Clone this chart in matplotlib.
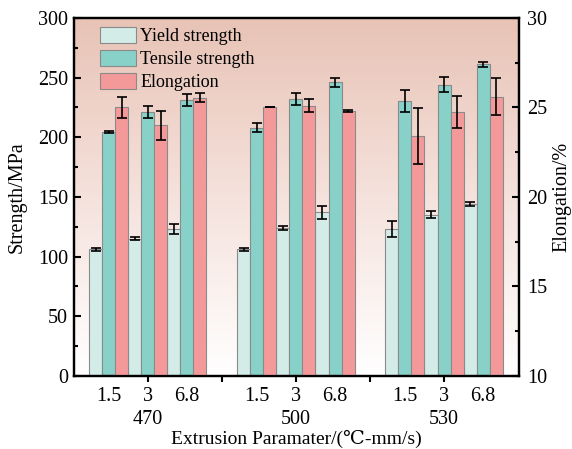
import numpy as np
import matplotlib
matplotlib.use('Agg')
from matplotlib import pyplot as plt
from matplotlib.colors import LinearSegmentedColormap

plt.rcParams['font.family'] = ['Liberation Serif', 'DejaVu Serif']

temps = ['470', '500', '530']
speeds = ['1.5', '3', '6.8']

# values per (temp, speed): 470-1.5, 470-3, 470-6.8, 500-..., 530-...
yield_s = [106, 115, 123, 106, 124, 137, 123, 135, 144]
yield_err = [1, 1.5, 4.5, 1, 2, 5.6, 6.6, 3, 1.7]
tensile = [204.5, 221, 231, 208, 232, 246, 230.5, 244, 261]
tensile_err = [1, 4.9, 4.9, 3.8, 5, 3.5, 9.2, 6.3, 2.2]
elong = [25.0, 24.0, 25.55, 25.0, 25.1, 24.8, 23.4, 24.75, 25.6]
elong_err = [0.6, 0.8, 0.26, 0.0, 0.37, 0.05, 1.56, 0.9, 1.04]

c_yield = '#d4ece8'
c_tens = '#88d1c9'
c_elong = '#f4999a'
edge = '#8a8a8a'
fs = 14.5

fig = plt.figure(figsize=(5.72, 4.49), dpi=100)
ax = fig.add_axes([0.129, 0.163, 0.778, 0.797])
ax2 = ax.twinx()

w = 0.088
sub = 3 * w
centers = []
for g in range(3):
    for s in range(3):
        centers.append(g + (s - 1) * sub)
centers = np.array(centers)

# gradient background
cmap = LinearSegmentedColormap.from_list('bg', ['#ffffff', '#f5e2dc', '#e8c3b6'])
grad = np.linspace(0, 1, 256).reshape(-1, 1)
ax.imshow(grad, cmap=cmap, aspect='auto', origin='lower',
          extent=[-0.5, 2.5, 0, 300], zorder=0)

ekw = dict(ecolor='black', elinewidth=1.2, capsize=3.5, capthick=1.2)
ax.bar(centers - w, yield_s, w, color=c_yield, edgecolor=edge, linewidth=0.8,
       yerr=yield_err, error_kw=ekw, label='Yield strength', zorder=2)
ax.bar(centers, tensile, w, color=c_tens, edgecolor=edge, linewidth=0.8,
       yerr=tensile_err, error_kw=ekw, label='Tensile strength', zorder=2)
b3 = ax2.bar(centers + w, elong, w, color=c_elong, edgecolor=edge, linewidth=0.8,
             yerr=elong_err, error_kw=ekw, label='Elongation', zorder=2)

ax.set_xlim(-0.5, 2.505)
ax.set_ylim(0, 300)
ax2.set_ylim(10, 30)
ax.set_zorder(ax2.get_zorder() - 1)
ax2.patch.set_visible(False)

ax.set_yticks(np.arange(0, 301, 50))
ax.set_yticks(np.arange(0, 301, 25), minor=True)
ax2.set_yticks(np.arange(10, 31, 5))
ax2.set_yticks(np.arange(10, 31, 2.5), minor=True)

ax.xaxis.remove_overlapping_locs = False
ax.set_xticks([0, 0.5, 1, 1.5, 2])
ax.set_xticklabels([])
ax.set_xticks(centers, minor=True)
ax.set_xticklabels(speeds * 3, minor=True)
ax.tick_params(axis='x', which='major', direction='out', length=4, width=1.5)
ax.tick_params(axis='x', which='minor', length=0, pad=8, labelsize=fs)
ax.tick_params(axis='y', which='major', direction='in', length=5, width=1.5,
               labelsize=fs, pad=4)
ax.tick_params(axis='y', which='minor', direction='in', length=3, width=1.5)
ax2.tick_params(axis='y', which='major', direction='in', length=5, width=1.5,
                labelsize=fs, pad=6)
ax2.tick_params(axis='y', which='minor', direction='in', length=3, width=1.5)

for a in (ax, ax2):
    for sp in a.spines.values():
        sp.set_linewidth(1.6)

for g, t in enumerate(temps):
    ax.text(g, -0.121, t, transform=ax.get_xaxis_transform(), ha='center',
            va='center', fontsize=fs)

ax.set_xlabel('Extrusion Paramater/(℃-mm/s)', fontsize=14)
ax.xaxis.set_label_coords(0.5, -0.15)
ax.set_ylabel('Strength/MPa', fontsize=fs, labelpad=8)
ax2.set_ylabel('Elongation/%', fontsize=fs, labelpad=4)

h1, l1 = ax.get_legend_handles_labels()
leg = ax.legend(h1 + [b3], l1 + ['Elongation'], loc='upper left',
                bbox_to_anchor=(0.03, 1.01), fontsize=13, frameon=False,
                handlelength=2.0, handleheight=1.0, handletextpad=0.25,
                labelspacing=0.25, borderaxespad=0.3)

fig.savefig('out.png', dpi=100)
